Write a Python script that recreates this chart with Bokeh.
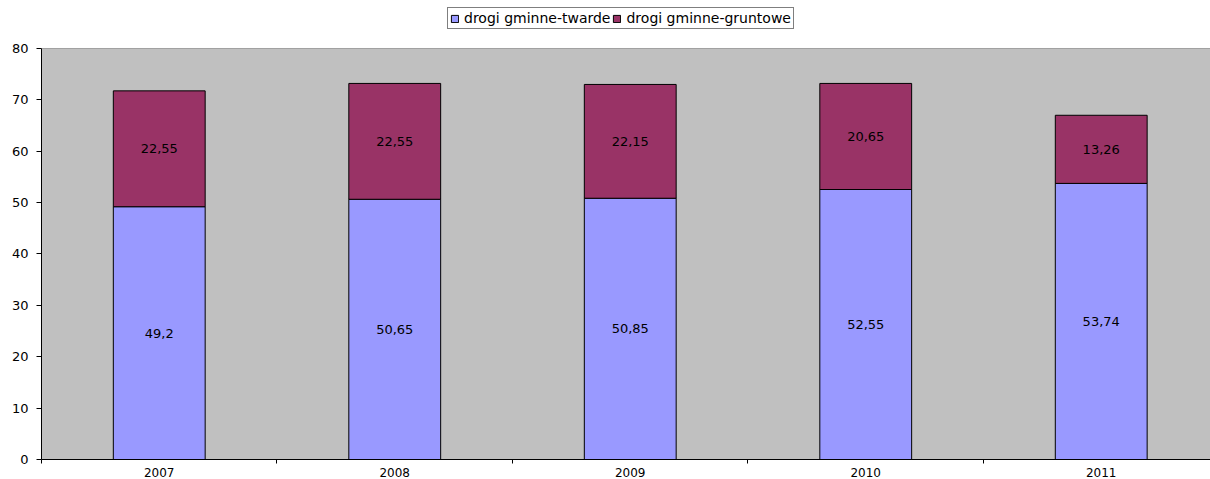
from bokeh.plotting import figure
from bokeh.models import (ColumnDataSource, Range1d, FixedTicker, Legend, LegendItem,
                          LabelSet, BoxAnnotation, Span)
from bokeh.core.properties import value
from bokeh.embed import file_html
from bokeh.resources import INLINE

years = ["2007", "2008", "2009", "2010", "2011"]
twarde = [49.2, 50.65, 50.85, 52.55, 53.74]
gruntowe = [22.55, 22.55, 22.15, 20.65, 13.26]
series_names = ["drogi gminne-twarde", "drogi gminne-gruntowe"]
y_ticks = [0, 10, 20, 30, 40, 50, 60, 70, 80]
y_max = 80

FONT = "DejaVu Sans"

xc = [i + 0.5 for i in range(len(years))]
src = ColumnDataSource(dict(
    x=xc,
    twarde=twarde,
    gruntowe=gruntowe,
    y1=[v / 2 for v in twarde],
    y2=[a + b / 2 for a, b in zip(twarde, gruntowe)],
    t1=[("%g" % v).replace(".", ",") for v in twarde],
    t2=[("%g" % v).replace(".", ",") for v in gruntowe],
))

# frame spans from the top of the figure; the plot area (0..80) is drawn as a grey box
p = figure(width=1210, height=485, output_backend="svg", toolbar_location=None,
           x_range=Range1d(0, 4.964), y_range=Range1d(0, 89.34),
           min_border_left=41, min_border_top=0, min_border_bottom=26,
           min_border_right=0)
p.background_fill_color = "white"
p.border_fill_color = "white"
p.outline_line_color = None

p.add_layout(BoxAnnotation(bottom=0, top=y_max, fill_color="#C0C0C0", fill_alpha=1,
                           line_color=None, level="underlay"))
p.add_layout(Span(location=y_max, dimension="width", line_color="#A0A0A0",
                  line_width=1, level="underlay"))

r = p.vbar_stack(["twarde", "gruntowe"], x="x", width=0.39, source=src,
                 color=["#9999FF", "#993366"], line_color="black", line_width=1)

p.add_layout(LabelSet(x="x", y="y1", text="t1", source=src, text_align="center",
                      text_baseline="middle", text_font_size="13px",
                      text_font=value(FONT), text_color="black"))
p.add_layout(LabelSet(x="x", y="y2", text="t2", source=src, text_align="center",
                      text_baseline="middle", text_font_size="13px",
                      text_font=value(FONT), text_color="black"))

# axes
p.yaxis.ticker = FixedTicker(ticks=y_ticks)
p.yaxis.bounds = (0, y_max)
p.yaxis.axis_line_color = "black"
p.yaxis.major_tick_line_color = "black"
p.yaxis.major_tick_out = 5
p.yaxis.major_tick_in = 0
p.yaxis.minor_tick_line_color = None
p.yaxis.major_label_standoff = 8
p.yaxis.major_label_text_font = FONT
p.yaxis.major_label_text_font_size = "13px"
p.yaxis.major_label_text_color = "black"

p.xaxis.ticker = FixedTicker(ticks=xc, minor_ticks=[0, 1, 2, 3, 4, 5])
p.xaxis.major_label_overrides = {x: y for x, y in zip(xc, years)}
p.xaxis.axis_line_color = "black"
p.xaxis.major_tick_line_color = None
p.xaxis.minor_tick_line_color = "black"
p.xaxis.minor_tick_out = 4
p.xaxis.minor_tick_in = 0
p.xaxis.major_label_standoff = 2
p.xaxis.major_label_text_font = FONT
p.xaxis.major_label_text_font_size = "12px"
p.xaxis.major_label_text_color = "black"

p.xgrid.grid_line_color = None
p.ygrid.ticker = FixedTicker(ticks=[t for t in y_ticks if t < y_max])
p.ygrid.grid_line_color = "black"
p.ygrid.grid_line_width = 1

legend = Legend(items=[LegendItem(label=series_names[0], renderers=[r[0]]),
                       LegendItem(label=series_names[1], renderers=[r[1]])],
                orientation="horizontal", location=(406, 430),
                label_text_font=FONT, label_text_font_size="14px",
                label_text_color="black",
                glyph_width=9, glyph_height=9, label_standoff=5, spacing=2,
                padding=2, margin=0, label_height=12,
                border_line_color="black", border_line_width=1,
                background_fill_color="white", background_fill_alpha=1)
p.add_layout(legend, "center")

open("out.html", "w").write(file_html(p, INLINE))
